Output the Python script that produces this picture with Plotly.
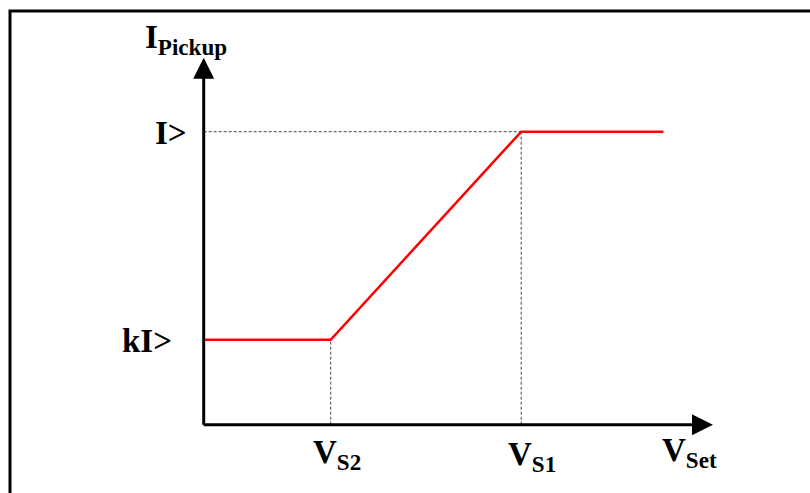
import plotly.graph_objects as go

# characteristic in relative units (V_S2 = 1, I> = 1)
v_points = [0.0, 1.0, 2.5, 3.62]       # origin, V_S2, V_S1, end of curve
i_points = [0.29, 0.29, 1.0, 1.0]      # kI>, kI>, I>, I>
v_s2, v_s1 = v_points[1], v_points[2]
k_i, i_max = i_points[0], i_points[2]
x_tip, y_tip = 4.01, 1.2526            # arrow tips of the axes

W, H = 810, 493
px_v, px_i = 127.0, 293.0              # pixels per unit
ox, oy = 203.7, 424.7                  # origin in pixels

x_range = [-ox / px_v, (W - ox) / px_v]
y_range = [-(H - oy) / px_i, oy / px_i]

FONT = "Liberation Serif"

fig = go.Figure()

# dashed guide lines
guide = dict(color='#444444', width=1, dash='3px,2px')
fig.add_trace(go.Scatter(x=[0, v_s1], y=[i_max, i_max], mode='lines', line=guide, hoverinfo='skip'))
fig.add_trace(go.Scatter(x=[v_s2, v_s2], y=[0, k_i], mode='lines', line=guide, hoverinfo='skip'))
fig.add_trace(go.Scatter(x=[v_s1, v_s1], y=[0, i_max], mode='lines', line=guide, hoverinfo='skip'))

# pickup characteristic
fig.add_trace(go.Scatter(x=v_points, y=i_points, mode='lines',
                         line=dict(color='#ff0000', width=2.5), hoverinfo='skip'))

# axes with arrows
eps = 1.5 / px_i
fig.add_annotation(x=0, y=y_tip, ax=0, ay=-eps, xref='x', yref='y', axref='x', ayref='y',
                   text='', showarrow=True, arrowhead=2, arrowsize=1.4, arrowwidth=3, arrowcolor='black')
fig.add_annotation(x=x_tip, y=0, ax=-1.5 / px_v, ay=0, xref='x', yref='y', axref='x', ayref='y',
                   text='', showarrow=True, arrowhead=2, arrowsize=1.4, arrowwidth=3, arrowcolor='black')

# labels
lbl = dict(family=FONT, size=33, color='black')
fig.add_annotation(x=0, y=y_tip, text='<b>I<sub>Pickup</sub></b>', showarrow=False, font=lbl,
                   xanchor='center', yanchor='bottom', xshift=-18, yshift=-4)
fig.add_annotation(x=0, y=i_max, text='<b>I></b>', showarrow=False, font=lbl,
                   xanchor='right', yanchor='middle', xshift=-15, yshift=-1)
fig.add_annotation(x=0, y=k_i, text='<b>kI></b>', showarrow=False, font=lbl,
                   xanchor='right', yanchor='middle', xshift=-30, yshift=-1)
fig.add_annotation(x=v_s2, y=0, text='<b>V<sub>S2</sub></b>', showarrow=False, font=lbl,
                   xanchor='center', yanchor='top', xshift=6, yshift=-7)
fig.add_annotation(x=v_s1, y=0, text='<b>V<sub>S1</sub></b>', showarrow=False, font=lbl,
                   xanchor='center', yanchor='top', xshift=11, yshift=-9)
fig.add_annotation(x=x_tip, y=0, text='<b>V<sub>Set</sub></b>', showarrow=False, font=lbl,
                   xanchor='right', yanchor='top', xshift=6, yshift=-5)

# outer frame (runs off the right and bottom edges)
fig.add_shape(type='rect', xref='paper', yref='paper',
              x0=10 / W, x1=1.02, y0=-0.02, y1=1 - 11 / H,
              line=dict(color='black', width=3))

fig.update_layout(
    width=W, height=H,
    margin=dict(l=0, r=0, t=0, b=0),
    plot_bgcolor='white', paper_bgcolor='white',
    showlegend=False,
    xaxis=dict(range=x_range, visible=False, fixedrange=True),
    yaxis=dict(range=y_range, visible=False, fixedrange=True),
)

# drop the default 8px body margin so the figure fills the window
fig.write_html("out.html", config={'displayModeBar': False},
               post_script="document.body.style.margin='0';document.body.style.overflow='hidden';")
